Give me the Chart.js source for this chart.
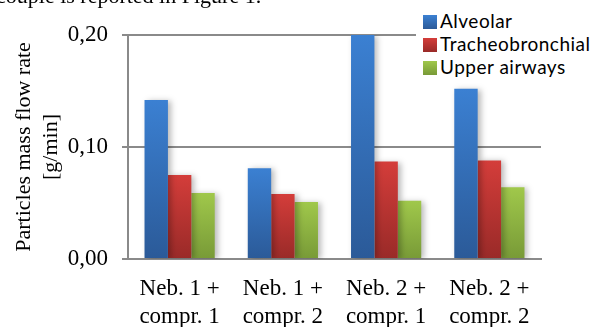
<!DOCTYPE html>
<html lang="en">
<head>
    <meta charset="UTF-8">
    <script src="https://cdn.jsdelivr.net/npm/chart.js"></script>
    <title>Particles mass flow rate</title>
    <style>
        body { margin: 0; background: #fff; }
        #wrap { position: relative; width: 601px; height: 327px; overflow: hidden; }
        #cut { position: absolute; left: -4px; top: -17px; font: 22px 'Liberation Serif', 'Times New Roman', serif; white-space: nowrap; color: #000; }
        #legend { position: absolute; left: 416px; top: 9px; width: 185px; background: #fff; padding-left: 7px;
                  font: 19px Lato, 'Open Sans', sans-serif; letter-spacing: 0.5px; color: #000; }
        #legend div { height: 23px; line-height: 23px; white-space: nowrap; }
        #legend span { display: inline-block; width: 14px; height: 14px; margin-right: 3px; vertical-align: -1px; }
    </style>
</head>
<body>
    <div id="wrap">
        <canvas id="flowChart"></canvas>
        <div id="cut">couple is reported in Figure 1.</div>
        <div id="legend"></div>
    </div>
    <script>
        // data (g/min)
        const categories = [['Neb. 1 +', 'compr. 1'], ['Neb. 1 +', 'compr. 2'], ['Neb. 2 +', 'compr. 1'], ['Neb. 2 +', 'compr. 2']];
        const seriesNames = ['Alveolar', 'Tracheobronchial', 'Upper airways'];
        const alveolar = [0.142, 0.081, 0.200, 0.152];
        const tracheobronchial = [0.075, 0.058, 0.087, 0.088];
        const upperAirways = [0.059, 0.051, 0.052, 0.064];
        const yTicks = [0, 0.1, 0.2];

        const serif = "'Liberation Serif', 'Times New Roman', serif";
        const axisGray = '#8a8a8a';
        // top / bottom colours of each bar gradient
        const shades = [['#3b80d2', '#2b5a98'], ['#d43d3a', '#992a28'], ['#a0c84b', '#789a37']];

        function barGradient(top, bottom) {
            return (c) => {
                const chart = c.chart;
                if (!chart.chartArea || !c.parsed) return top;
                const y = chart.scales.y;
                const g = chart.ctx.createLinearGradient(0, y.getPixelForValue(c.parsed.y), 0, y.getPixelForValue(0));
                g.addColorStop(0, top);
                g.addColorStop(1, bottom);
                return g;
            };
        }

        const barShadow = {
            id: 'barShadow',
            beforeDatasetsDraw(chart) {
                const c = chart.ctx;
                c.save();
                c.shadowColor = 'rgba(0,0,0,0.28)';
                c.shadowBlur = 6;
                c.shadowOffsetX = 3;
                c.shadowOffsetY = 1;
            },
            afterDatasetsDraw(chart) {
                chart.ctx.restore();
            }
        };

        const values = [alveolar, tracheobronchial, upperAirways];

        new Chart(document.getElementById('flowChart'), {
            type: 'bar',
            data: {
                labels: categories,
                datasets: values.map((v, i) => ({
                    label: seriesNames[i],
                    data: v,
                    backgroundColor: barGradient(shades[i][0], shades[i][1]),
                    borderWidth: 0,
                    categoryPercentage: 0.68,
                    barPercentage: 1
                }))
            },
            options: {
                responsive: true,
                maintainAspectRatio: false,
                animation: false,
                layout: { padding: { left: 0, right: 60, top: 35, bottom: 0 } },
                plugins: { legend: { display: false }, tooltip: { enabled: false } },
                scales: {
                    x: {
                        grid: { display: false, drawTicks: false },
                        border: { color: axisGray, width: 2 },
                        ticks: { color: '#000', font: { family: serif, size: 23, lineHeight: 1.22 }, padding: 16, maxRotation: 0, autoSkip: false },
                        afterFit: (s) => { s.height = 68; }
                    },
                    y: {
                        min: yTicks[0],
                        max: yTicks[yTicks.length - 1],
                        afterBuildTicks: (s) => { s.ticks = yTicks.map(v => ({ value: v })); },
                        grid: { color: axisGray, lineWidth: 2, tickLength: 6 },
                        border: { color: axisGray, width: 2 },
                        ticks: {
                            color: '#000',
                            font: { family: serif, size: 23 },
                            padding: 14,
                            callback: (v) => v.toFixed(2).replace('.', ',')
                        },
                        title: {
                            display: true,
                            text: ['Particles mass flow rate', '[g/min]'],
                            color: '#000',
                            font: { family: serif, size: 22, lineHeight: 1.23 },
                            padding: { top: 11, bottom: 0 }
                        },
                        afterFit: (s) => { s.width = 128; }
                    }
                }
            },
            plugins: [barShadow]
        });

        // legend as html so it can sit over the top gridline like the original
        document.getElementById('legend').innerHTML = seriesNames.map((n, i) =>
            `<div><span style="background:linear-gradient(${shades[i][0]}, ${shades[i][1]})"></span>${n}</div>`).join('');
    </script>
</body>
</html>
